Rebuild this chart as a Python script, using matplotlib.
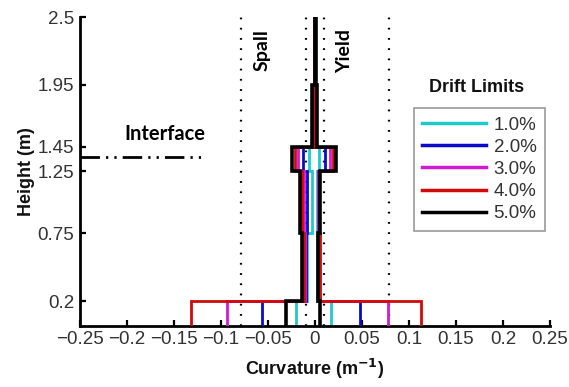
import numpy as np
import matplotlib
matplotlib.use("Agg")
import matplotlib.pyplot as plt

# segment boundaries along the height (m)
heights = [0, 0.2, 0.75, 1.25, 1.45, 1.95, 2.5]

drift_labels = ["1.0%", "2.0%", "3.0%", "4.0%", "5.0%"]
drift_colors = ["#1ECACC", "#0A0ACC", "#D21AD2", "#D00A0A", "#000000"]

# curvature per segment (bottom -> top), negative push
curv_neg = [
    [-0.020, -0.008, -0.003, -0.006, -0.001, -0.001],
    [-0.056, -0.010, -0.009, -0.013, -0.001, -0.001],
    [-0.094, -0.011, -0.012, -0.018, -0.002, -0.001],
    [-0.132, -0.012, -0.014, -0.021, -0.002, -0.001],
    [-0.031, -0.014, -0.016, -0.024, -0.003, 0.000],
]
# curvature per segment, positive push
curv_pos = [
    [0.017, 0.002, 0.002, 0.004, 0.001, 0.000],
    [0.048, 0.003, 0.003, 0.011, 0.001, 0.000],
    [0.078, 0.004, 0.003, 0.016, 0.001, 0.000],
    [0.113, 0.005, 0.004, 0.019, 0.001, 0.000],
    [0.005, 0.003, 0.005, 0.022, 0.002, 0.001],
]

spall = 0.079
yield_c = 0.010
interface_h = 1.37

xticks = np.round(np.arange(-0.25, 0.2501, 0.05), 2)
yticks = [0.2, 0.75, 1.25, 1.45, 1.95, 2.5]


def step_path(curv):
    xs, ys = [], []
    for i, c in enumerate(curv):
        xs += [c, c]
        ys += [heights[i], heights[i + 1]]
    return xs, ys


def fmt(v):
    if v == 0:
        return "0"
    s = ("%.2f" % abs(v)).rstrip("0")
    return ("\u2212" if v < 0 else "") + s


fig = plt.figure(figsize=(5.69, 3.87), dpi=100)
ax = fig.add_axes([0.1406, 0.158, 0.826, 0.798])

note_font = ["Lato", "DejaVu Sans"]
tick_font = ["Liberation Sans", "DejaVu Sans"]

# dotted limit lines
for xv in [-spall, -yield_c, yield_c, spall]:
    ax.plot([xv, xv], [0, 2.5], color="black", lw=1.6, ls=(0, (0.8, 3.8)), zorder=1)

lines = []
for k in range(len(drift_labels)):
    lw = 2.6 if k == 4 else 2.0
    for curv in (curv_neg[k], curv_pos[k]):
        xs, ys = step_path(curv)
        ln, = ax.plot(xs, ys, color=drift_colors[k], lw=lw, zorder=2 + k,
                      solid_joinstyle="miter")
    lines.append(ln)

# interface line
ax.plot([-0.25, -0.117], [interface_h, interface_h], color="black", lw=2,
        dashes=[7, 2.2, 0.8, 2.2, 0.8, 2.2], zorder=3)
ax.text(-0.117, 1.47, "Interface", fontsize=14.5, fontweight="bold",
        family=note_font, ha="right", va="bottom")

ax.text(-0.056, 2.4, "Spall", rotation=90, fontsize=14, fontweight="bold",
        family=note_font, ha="center", va="top")
ax.text(0.032, 2.4, "Yield", rotation=90, fontsize=14, fontweight="bold",
        family=note_font, ha="center", va="top")

ax.set_xlim(-0.25, 0.25)
ax.set_ylim(0, 2.5)
ax.set_xticks(xticks)
ax.set_xticklabels([fmt(v) for v in xticks], family=tick_font, fontsize=13.5,
                   color="#333333")
ax.set_yticks(yticks)
ax.set_yticklabels([str(v) for v in yticks], family=tick_font, fontsize=13.5,
                   color="#333333")
ax.tick_params(direction="in", length=4.5, width=1.6, pad=4, colors="black",
               labelcolor="#333333")
ax.spines["top"].set_visible(False)
ax.spines["right"].set_visible(False)
ax.spines["left"].set_linewidth(2)
ax.spines["bottom"].set_linewidth(2)

ax.set_xlabel("Curvature (m$^{\\mathbf{-1}}$)", fontsize=13, fontweight="bold",
              family=tick_font, labelpad=6, color="#111111")
ax.set_ylabel("Height (m)", fontsize=13, fontweight="bold", family=tick_font,
              labelpad=2, color="#111111")

leg = fig.legend(lines, drift_labels, loc="upper left",
                 bbox_to_anchor=(414 / 569, 1 - 108 / 387),
                 prop={"family": tick_font, "size": 13.5}, handlelength=3.4,
                 handletextpad=0.4, labelspacing=0.27, borderpad=0.45,
                 borderaxespad=0, frameon=True, fancybox=False)
leg.get_frame().set_edgecolor("#808080")
leg.get_frame().set_linewidth(1.2)
for t in leg.get_texts():
    t.set_color("#333333")
for h in leg.get_lines():
    h.set_linewidth(2.5)
fig.text(477 / 569, 1 - 87 / 387, "Drift Limits", fontsize=13, fontweight="bold",
         family=tick_font, ha="center", va="center", color="#111111")

fig.savefig("out.png", dpi=100)
